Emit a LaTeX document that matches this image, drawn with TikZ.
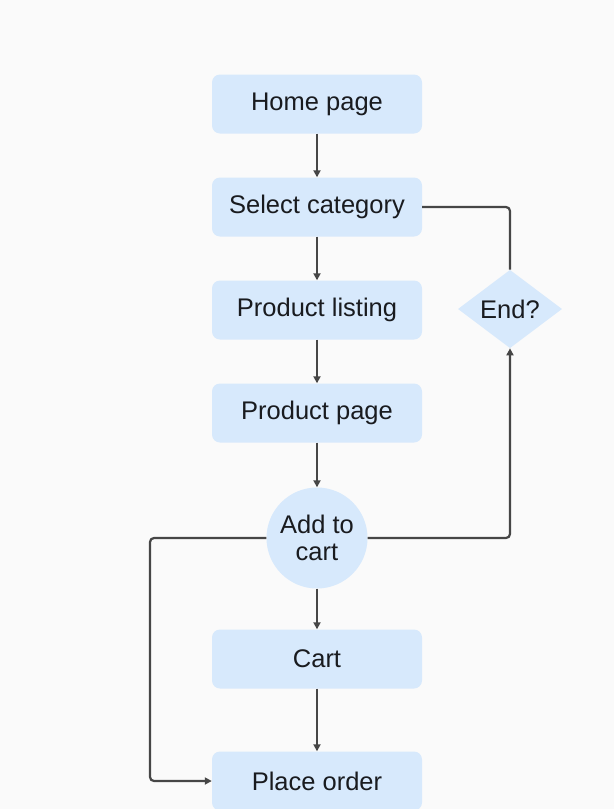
\documentclass[tikz,border=0pt]{standalone}
\usepackage{fontspec}
\setmainfont{Liberation Sans}
\usetikzlibrary{shapes.geometric,arrows.meta}
\definecolor{cus-bg}{RGB}{250,250,250}
\definecolor{cus-blue}{RGB}{215,233,252}
\definecolor{cus-line}{RGB}{70,70,70}
\definecolor{cus-text}{RGB}{25,27,31}
\begin{document}
\begin{tikzpicture}[x=1pt, y=-1pt,
	stepbox/.style={rectangle, rounded corners=8pt, fill=cus-blue, minimum width=210pt, minimum height=59pt, text=cus-text, font=\fontsize{25.5}{29}\selectfont},
	roundbox/.style={circle, fill=cus-blue, minimum size=101pt, inner sep=0pt, align=center, text=cus-text, font=\fontsize{25.5}{27}\selectfont},
	askbox/.style={diamond, fill=cus-blue, minimum width=104pt, minimum height=78pt, inner sep=0pt, text=cus-text, font=\fontsize{25.5}{29}\selectfont},
	link/.style={draw=cus-line, line width=2.2pt, rounded corners=4pt, -{Triangle[length=7pt,width=7pt]}},
	plain/.style={draw=cus-line, line width=2.2pt, rounded corners=4pt}]
\fill [cus-bg] (0,0) rectangle (614,809);
\useasboundingbox (0,0) rectangle (614,809);
\node [stepbox] (home) at (317,104) {Home page};
\node [stepbox] (cat) at (317,207) {Select category};
\node [stepbox] (list) at (317,310) {Product listing};
\node [stepbox] (prod) at (317,413) {Product page};
\node [roundbox] (add) at (317,538) {Add to\\cart};
\node [stepbox] (cart) at (317,659) {Cart};
\node [stepbox] (order) at (317,781) {Place order};
\node [askbox] (end) at (510,309) {End?};
\coordinate (addL) at (150,538);
\draw [link] (home) -- (cat);
\draw [link] (cat) -- (list);
\draw [link] (list) -- (prod);
\draw [link] (prod) -- (add);
\draw [link] (add) -- (cart);
\draw [link] (cart) -- (order);
\draw [plain] (cat.east) -| (end.north);
\draw [link] (add.east) -| (end.south);
\draw [link] (add.west) -- (addL) |- (order.west);
\end{tikzpicture}
\end{document}
